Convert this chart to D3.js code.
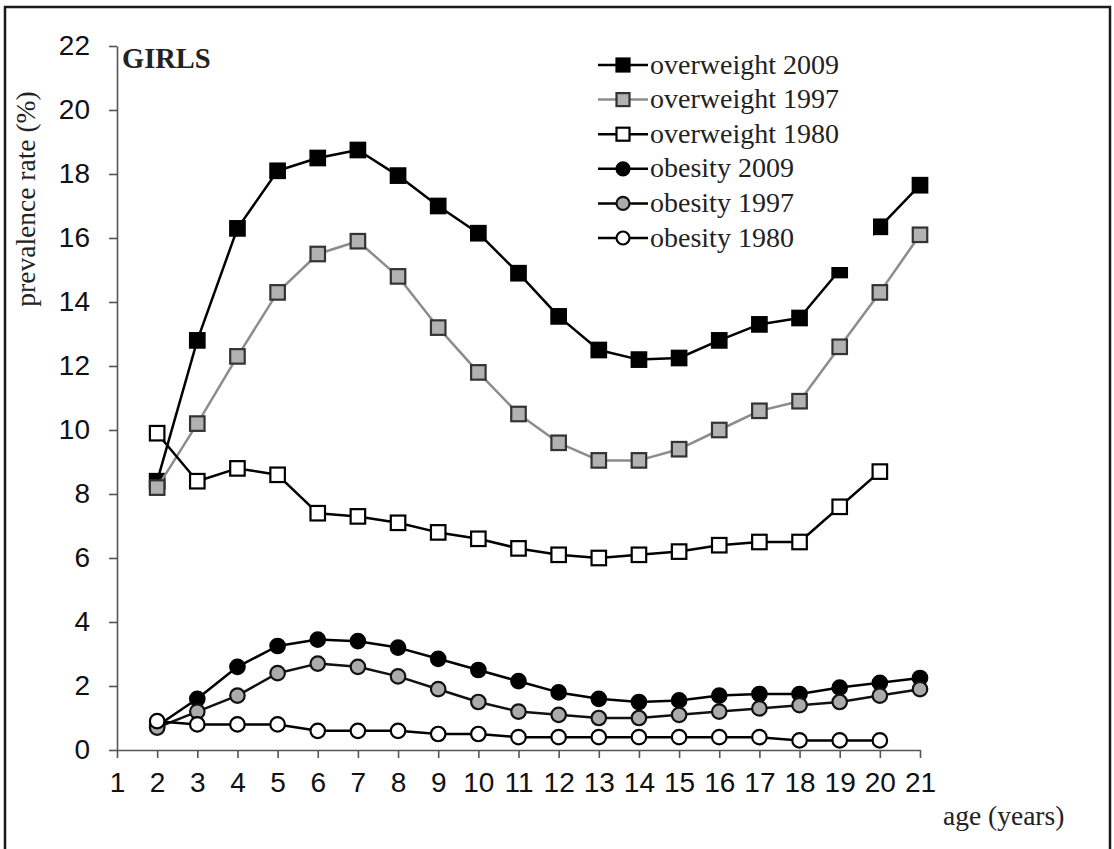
<!DOCTYPE html>
<html>
<head>
<meta charset="utf-8">
<script src="https://cdn.jsdelivr.net/npm/d3@7"></script>
<style>
  html, body { margin: 0; padding: 0; background: #fff; }
  svg { display: block; }
</style>
</head>
<body>
<svg id="chart" width="1114" height="849"></svg>
<script>
// ---- data ----
const ages = [2, 3, 4, 5, 6, 7, 8, 9, 10, 11, 12, 13, 14, 15, 16, 17, 18, 19, 20, 21];
const xTicks = [1, 2, 3, 4, 5, 6, 7, 8, 9, 10, 11, 12, 13, 14, 15, 16, 17, 18, 19, 20, 21];
const yTicks = [0, 2, 4, 6, 8, 10, 12, 14, 16, 18, 20, 22];

const overweight2009 = [8.4, 12.8, 16.3, 18.1, 18.5, 18.75, 17.95, 17.0, 16.15, 14.9, 13.55, 12.5, 12.2, 12.25, 12.8, 13.3, 13.5, 15.0, 16.35, 17.65];
const overweight1997 = [8.2, 10.2, 12.3, 14.3, 15.5, 15.9, 14.8, 13.2, 11.8, 10.5, 9.6, 9.05, 9.05, 9.4, 10.0, 10.6, 10.9, 12.6, 14.3, 16.1];
const overweight1980 = [9.9, 8.4, 8.8, 8.6, 7.4, 7.3, 7.1, 6.8, 6.6, 6.3, 6.1, 6.0, 6.1, 6.2, 6.4, 6.5, 6.5, 7.6, 8.7, null];
const obesity2009 = [0.75, 1.6, 2.6, 3.25, 3.45, 3.4, 3.2, 2.85, 2.5, 2.15, 1.8, 1.6, 1.5, 1.55, 1.7, 1.75, 1.75, 1.95, 2.1, 2.25];
const obesity1997 = [0.7, 1.2, 1.7, 2.4, 2.7, 2.6, 2.3, 1.9, 1.5, 1.2, 1.1, 1.0, 1.0, 1.1, 1.2, 1.3, 1.4, 1.5, 1.7, 1.9];
const obesity1980 = [0.9, 0.8, 0.8, 0.8, 0.6, 0.6, 0.6, 0.5, 0.5, 0.4, 0.4, 0.4, 0.4, 0.4, 0.4, 0.4, 0.3, 0.3, 0.3, null];

const seriesNames = ["overweight 2009", "overweight 1997", "overweight 1980", "obesity 2009", "obesity 1997", "obesity 1980"];
const seriesValues = [overweight2009, overweight1997, overweight1980, obesity2009, obesity1997, obesity1980];
const seriesShapes = ["square", "square", "square", "circle", "circle", "circle"];

// ---- styles ----
const styles = [
  { line: "#000", lw: 2.5, fill: "#000", stroke: "#000" },
  { line: "#8c8c8c", lw: 2.5, fill: "#b2b2b2", stroke: "#333" },
  { line: "#000", lw: 2.5, fill: "#fff", stroke: "#000" },
  { line: "#000", lw: 2.5, fill: "#000", stroke: "#000" },
  { line: "#111", lw: 2.5, fill: "#ababab", stroke: "#111" },
  { line: "#000", lw: 2.5, fill: "#fff", stroke: "#000" }
];

const svg = d3.select("#chart");
const serif = "'Liberation Serif', 'DejaVu Serif', serif";
const sans = "'Liberation Sans', Arial, sans-serif";

// frame
svg.append("rect").attr("x", 5).attr("y", 7).attr("width", 1105).attr("height", 850)
  .attr("fill", "#fff").attr("stroke", "#1a1a1a").attr("stroke-width", 2.5);

const x = d3.scaleLinear().domain([1, 21]).range([117, 920]);
const y = d3.scaleLinear().domain([0, 22]).range([750, 46]);

// axes
const yAxis = svg.append("g").attr("transform", "translate(117,0)")
  .call(d3.axisLeft(y).tickValues(yTicks).tickSize(8).tickSizeOuter(0).tickPadding(19));
const xAxis = svg.append("g").attr("transform", "translate(0,750)")
  .call(d3.axisBottom(x).tickValues(xTicks).tickSize(8).tickSizeOuter(0).tickPadding(14));
[yAxis, xAxis].forEach(g => {
  g.select(".domain").attr("stroke", "#555").attr("stroke-width", 1.6);
  g.selectAll(".tick line").attr("stroke", "#555").attr("stroke-width", 1.6);
  g.selectAll(".tick text").attr("fill", "#111").style("font-family", sans).style("font-size", "28px");
});

// series
const line = d3.line().defined(d => d.v != null).x(d => x(d.a)).y(d => y(d.v));
const plot = svg.append("g");

function drawMarker(g, shape, cx, cy, st, size) {
  if (shape === "square") {
    g.append("rect").attr("x", cx - size / 2).attr("y", cy - size / 2)
      .attr("width", size).attr("height", size)
      .attr("fill", st.fill).attr("stroke", st.stroke).attr("stroke-width", 2.2);
  } else {
    g.append("circle").attr("cx", cx).attr("cy", cy).attr("r", size / 2)
      .attr("fill", st.fill).attr("stroke", st.stroke).attr("stroke-width", 2.2);
  }
}

seriesValues.forEach((vals, i) => {
  const pts = ages.map((a, j) => ({ a, v: vals[j] }));
  const g = plot.append("g");
  g.append("path").datum(pts).attr("d", line)
    .attr("fill", "none").attr("stroke", styles[i].line).attr("stroke-width", styles[i].lw)
    .attr("stroke-linejoin", "round");
  pts.filter(p => p.v != null).forEach(p => {
    drawMarker(g, seriesShapes[i], x(p.a), y(p.v), styles[i], 14.5);
  });
});

// GIRLS label
svg.append("text").attr("x", 122).attr("y", 68).text("GIRLS")
  .style("font-family", serif).style("font-weight", "bold").style("font-size", "28.5px").attr("fill", "#222");

// legend (white box covering plot)
const leg = svg.append("g");
leg.append("rect").attr("x", 590).attr("y", 40).attr("width", 283).attr("height", 227).attr("fill", "#fff");
seriesNames.forEach((name, i) => {
  const cy = 65 + i * 34.6;
  leg.append("line").attr("x1", 598).attr("x2", 648).attr("y1", cy).attr("y2", cy)
    .attr("stroke", i === 1 ? "#8c8c8c" : "#000").attr("stroke-width", 2.5);
  drawMarker(leg, seriesShapes[i], 623, cy, styles[i], 13);
  leg.append("text").attr("x", 650).attr("y", cy + 8.5).text(name)
    .style("font-family", serif).style("font-size", "28px").attr("fill", "#222");
});

// axis titles
svg.append("text").attr("transform", "translate(35,199) rotate(-90)").attr("text-anchor", "middle")
  .text("prevalence rate (%)").style("font-family", serif).style("font-size", "27.5px").attr("fill", "#222");
svg.append("text").attr("x", 943).attr("y", 825).text("age (years)")
  .style("font-family", serif).style("font-size", "27.5px").attr("fill", "#222");
</script>
</body>
</html>
